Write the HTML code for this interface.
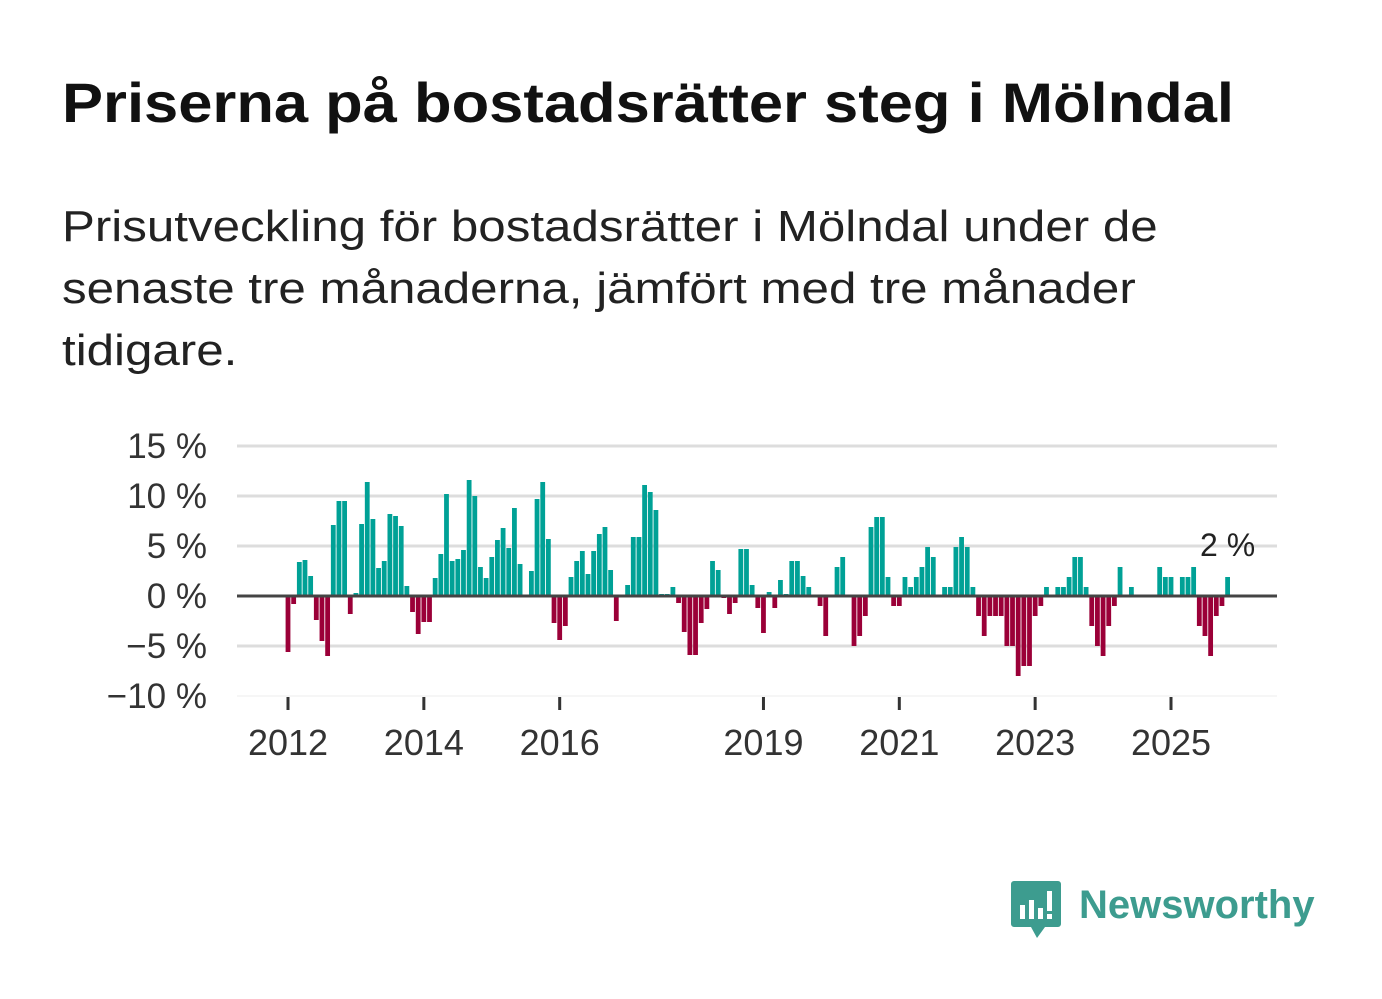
<!DOCTYPE html>
<html><head><meta charset="utf-8"><style>
body{margin:0;background:#fff;width:1382px;height:999px;overflow:hidden;font-family:"Liberation Sans","DejaVu Sans",sans-serif;}
#title{position:absolute;left:62px;top:70px;font-size:56px;font-weight:bold;color:#111;margin:0;white-space:nowrap;transform:scaleX(1.098);transform-origin:0 0}
#sub{position:absolute;left:62px;top:196px;font-size:44px;line-height:62px;color:#222;margin:0;white-space:nowrap;transform:scaleX(1.12);transform-origin:0 0}
</style></head><body>
<h1 id="title">Priserna på bostadsrätter steg i Mölndal</h1>
<p id="sub">Prisutveckling för bostadsrätter i Mölndal under de<br>senaste tre månaderna, jämfört med tre månader<br>tidigare.</p>
<svg id="chart" width="1382" height="999" style="position:absolute;left:0;top:0" xmlns="http://www.w3.org/2000/svg">
<g id="grid"></g><g id="bars"></g><g id="axes"></g>
<g>
<path d="M1014 881 h44 a3 3 0 0 1 3 3 v40 a3 3 0 0 1 -3 3 h-13 l-8 11 l-6 -11 h-17 a3 3 0 0 1 -3 -3 v-40 a3 3 0 0 1 3 -3z" fill="#3d9c8f"/>
<rect x="1020" y="905" width="5" height="14" fill="#fff"/><rect x="1029" y="900" width="5" height="19" fill="#fff"/><rect x="1038" y="908" width="5" height="11" fill="#fff"/><rect x="1047" y="891" width="5" height="20" fill="#fff"/><rect x="1047" y="914" width="5" height="5" fill="#fff"/>
<text x="1079" y="918" font-size="40" font-weight="bold" fill="#3d9c8f" font-family="Liberation Sans, sans-serif">Newsworthy</text>
</g>
</svg>
<script>
const yTicks=[15,10,5,0,-5,-10];
const yTickLabels=["15 %","10 %","5 %","0 %","\u22125 %","\u221210 %"];
const yearTicks=[2012,2014,2016,2019,2021,2023,2025];
const values=[-5.6,-0.8,3.4,3.6,2,-2.4,-4.5,-6,7.1,9.5,9.5,-1.8,0.3,7.2,11.4,7.7,2.8,3.5,8.2,8,7,1,-1.6,-3.8,-2.6,-2.6,1.8,4.2,10.2,3.5,3.7,4.6,11.6,10,2.9,1.8,3.9,5.6,6.8,4.8,8.8,3.2,0,2.5,9.7,11.4,5.7,-2.7,-4.4,-3,1.9,3.5,4.5,2.2,4.5,6.2,6.9,2.6,-2.5,0,1.1,5.9,5.9,11.1,10.4,8.6,0.2,0.2,0.9,-0.7,-3.6,-5.9,-5.9,-2.7,-1.3,3.5,2.6,-0.2,-1.8,-0.7,4.7,4.7,1.1,-1.2,-3.7,0.4,-1.2,1.6,0.2,3.5,3.5,2,0.9,0,-1,-4,0,2.9,3.9,0,-5,-4,-2,6.9,7.9,7.9,1.9,-1,-1,1.9,0.9,1.9,2.9,4.9,3.9,0,0.9,0.9,4.9,5.9,4.9,0.9,-2,-4,-2,-2,-2,-5,-5,-8,-7,-7,-2,-1,0.9,0,0.9,0.9,1.9,3.9,3.9,0.9,-3,-5,-6,-3,-1,2.9,0,0.9,0,0,0,0,2.9,1.9,1.9,0,1.9,1.9,2.9,-3,-4,-6,-2,-1,1.9];
const startYear=2012;
const NS="http://www.w3.org/2000/svg";
const x0=288, monthW=(1171-288)/156;
const X=i=>x0+i*monthW;
const XY=y=>x0+(y-startYear)*12*monthW;
const Y=v=>596-v*10;
function mk(tag,attrs,parent){const e=document.createElementNS(NS,tag);for(const k in attrs)e.setAttribute(k,attrs[k]);document.getElementById(parent).appendChild(e);return e;}
yTicks.forEach((t,i)=>{
 if(t!==0){const l=mk('line',{x1:237,x2:1277,y1:Y(t),y2:Y(t),stroke:t===-10?'#eee':'#ddd','stroke-width':t===-10?1:3},'grid');
 
 }
 const tx=mk('text',{x:207,y:Y(t)+12,'text-anchor':'end','font-size':35,fill:'#333'},'axes');
 tx.textContent=yTickLabels[i];
 
 
});
values.forEach((v,i)=>{
 if(v===0)return;
 const r=mk('rect',{x:X(i)-2.4,width:4.8,y:v>0?Y(v):Y(0),height:Math.abs(v)*10,fill:v>0?'#00a196':'#9b0038'},'bars');
 
 
});
const z=mk('line',{x1:237,x2:1277,y1:Y(0),y2:Y(0),stroke:'#444','stroke-width':3},'axes');


yearTicks.forEach(y=>{
 const t=mk('line',{x1:XY(y),x2:XY(y),y1:697,y2:710,stroke:'#333','stroke-width':3},'axes');
 
 
 const tx=mk('text',{x:XY(y),y:755,'text-anchor':'middle','font-size':36,fill:'#333'},'axes');
 tx.textContent=y;
 
 
});
const last=values.length-1;
const lab=mk('text',{x:X(last),y:556,'text-anchor':'middle','font-size':32,fill:'#222'},'axes');
lab.textContent=Math.round(values[last])+" %";


</script>
</body></html>
